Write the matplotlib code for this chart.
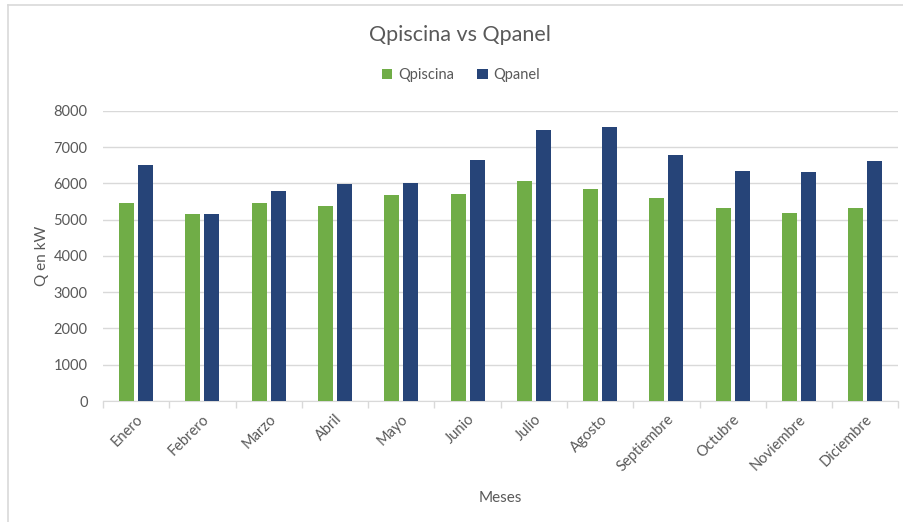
import numpy as np
import matplotlib.pyplot as plt
from matplotlib.lines import Line2D

meses = ['Enero', 'Febrero', 'Marzo', 'Abril', 'Mayo', 'Junio', 'Julio',
         'Agosto', 'Septiembre', 'Octubre', 'Noviembre', 'Diciembre']
qpiscina = [5475, 5150, 5450, 5380, 5690, 5705, 6080, 5850, 5595, 5335, 5190, 5335]
qpanel = [6500, 5170, 5790, 5990, 6020, 6640, 7480, 7550, 6780, 6340, 6310, 6615]

plt.rcParams['font.family'] = ['Lato', 'DejaVu Sans']
gris = '#595959'
verde = '#70AD47'
azul = '#264478'

fig = plt.figure(figsize=(9.04, 5.22), dpi=100)
ax = fig.add_axes([0.1139, 0.2318, 0.8800, 0.5556])

x = np.arange(len(meses))
ancho = 0.226
ax.bar(x - 0.143, qpiscina, ancho, color=verde, label='Qpiscina', zorder=3)
ax.bar(x + 0.143, qpanel, ancho, color=azul, label='Qpanel', zorder=3)

ax.set_xlim(-0.5, len(meses) - 0.5)
ax.set_ylim(0, 8000)
ax.set_yticks(range(0, 8001, 1000))
ax.grid(axis='y', color='#d9d9d9', linewidth=1, zorder=0)

ax.set_xticks(x)
ax.set_xticklabels(meses, rotation=45, ha='right', rotation_mode='anchor')
ax.set_xticks(np.arange(-0.5, len(meses), 1), minor=True)
ax.tick_params(axis='x', which='major', length=0, pad=8, labelsize=10.5, labelcolor=gris)
ax.tick_params(axis='x', which='minor', length=5, color='#d9d9d9', width=1)
ax.tick_params(axis='y', length=0, pad=11, labelsize=10.5, labelcolor=gris)

for lado in ['left', 'right', 'top']:
    ax.spines[lado].set_visible(False)
ax.spines['bottom'].set_color('#d9d9d9')

ax.set_ylabel('Q en kW', fontsize=11, color=gris, labelpad=3)
ax.set_xlabel('Meses', fontsize=11, color=gris, labelpad=12)

fig.text(0.509, 0.933, 'Qpiscina vs Qpanel', ha='center', va='center',
         fontsize=15.5, color=gris)
fig.legend(loc='center', bbox_to_anchor=(0.51, 0.856), ncol=2, frameon=False,
           fontsize=10.5, handlelength=0.7, handleheight=0.7, handletextpad=0.4,
           columnspacing=1.6, labelcolor=gris)

# marco del grafico
fig.add_artist(Line2D([0.0085, 0.0085], [0, 0.99], color='#d9d9d9', lw=1.2))
fig.add_artist(Line2D([0.0085, 1], [0.99, 0.99], color='#d9d9d9', lw=1.2))

fig.savefig('out.png', dpi=100)
